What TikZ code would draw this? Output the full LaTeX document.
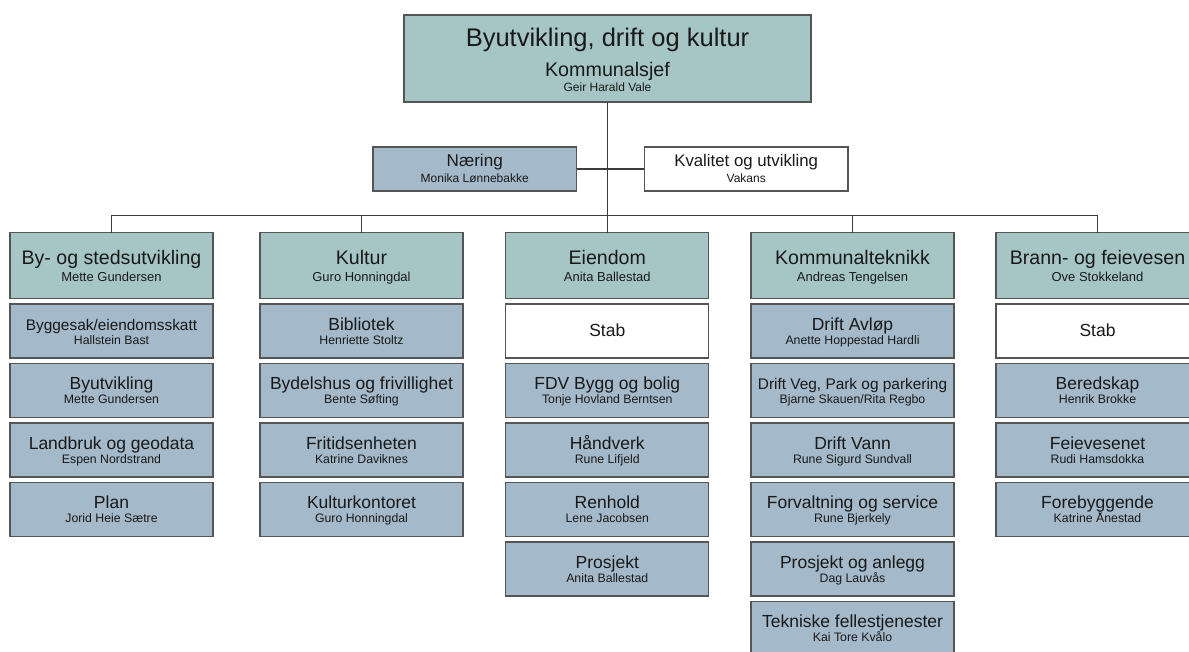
\documentclass[tikz,border=0pt]{standalone}
\usepackage{fontspec}
\setmainfont{Liberation Sans}
\definecolor{hdrc}{RGB}{166,198,198}
\definecolor{subc}{RGB}{164,185,201}
\definecolor{bordc}{RGB}{85,85,85}
\definecolor{linec}{RGB}{60,60,60}
\definecolor{txtc}{RGB}{25,25,25}
\tikzset{
  basebox/.style={draw=bordc, line width=1.2pt, minimum width=203pt, inner sep=0pt, outer sep=0pt},
  hdr/.style={basebox, fill=hdrc, minimum height=66pt},
  subbox/.style={basebox, fill=subc, minimum height=54pt},
  whtbox/.style={basebox, fill=white, minimum height=54pt},
  txt/.style={anchor=base, inner sep=0pt, outer sep=0pt, text=txtc},
  conn/.style={draw=linec, line width=1.3pt}
}
\newcommand\hbx[5]{%
  \node[hdr] (#1) at (#2,#3) {};
  \node[txt, font=\fontsize{19.6}{20}\selectfont] (#1-t) at ([yshift=1.5pt]#1.center) {#4};
  \node[txt, font=\fontsize{13}{14}\selectfont] (#1-n) at ([yshift=-15.8pt]#1.center) {#5};
}
\newcommand\sbx[6]{%
  \node[subbox] (#1) at (#2,#3) {};
  \node[txt, font=\fontsize{#6}{#6}\selectfont] (#1-t) at ([yshift=1pt]#1.center) {#4};
  \node[txt, font=\fontsize{12.3}{13}\selectfont] (#1-n) at ([yshift=-13.3pt]#1.center) {#5};
}
\newcommand\stabbx[3]{%
  \node[whtbox] (#1) at (#2,#3) {};
  \node[txt, font=\fontsize{17.5}{18}\selectfont] (#1-t) at ([yshift=-5.7pt]#1.center) {Stab};
}
\begin{document}
\begin{tikzpicture}[x=1pt,y=-1pt]
\useasboundingbox (0,0) rectangle (1189,651);
\clip (0,0) rectangle (1189,651);

% top box
\node[basebox, fill=hdrc, minimum width=407pt, minimum height=87pt] (top) at (607.5,58.5) {};
\node[txt, font=\fontsize{25.5}{26}\selectfont] (top-t) at ([yshift=11.8pt]top.center) {Byutvikling, drift og kultur};
\node[txt, font=\fontsize{19.7}{20}\selectfont] (top-k) at ([yshift=-18.2pt]top.center) {Kommunalsjef};
\node[txt, font=\fontsize{12}{13}\selectfont] (top-n) at ([yshift=-33.2pt]top.center) {Geir Harald Vale};

% staff boxes
\node[basebox, fill=subc, minimum width=203.5pt, minimum height=44pt] (naering) at (474.75,169) {};
\node[txt, font=\fontsize{17.1}{18}\selectfont] (naering-t) at ([yshift=2.3pt]naering.center) {Næring};
\node[txt, font=\fontsize{12}{13}\selectfont] (naering-n) at ([yshift=-13.7pt]naering.center) {Monika Lønnebakke};
\node[basebox, fill=white, minimum width=203.5pt, minimum height=44pt] (kval) at (746.2,169) {};
\node[txt, font=\fontsize{16.8}{18}\selectfont] (kval-t) at ([yshift=2.3pt]kval.center) {Kvalitet og utvikling};
\node[txt, font=\fontsize{12}{13}\selectfont] (kval-n) at ([yshift=-13.7pt]kval.center) {Vakans};

% headers
\hbx{h1}{111.5}{265.5}{By- og stedsutvikling}{Mette Gundersen}
\hbx{h2}{361.5}{265.5}{Kultur}{Guro Honningdal}
\hbx{h3}{607.3}{265.5}{Eiendom}{Anita Ballestad}
\hbx{h4}{852.5}{265.5}{Kommunalteknikk}{Andreas Tengelsen}
\hbx{h5}{1097.5}{265.5}{Brann- og feievesen}{Ove Stokkeland}

% column 1
\sbx{a1}{111.5}{331}{Byggesak/eiendomsskatt}{Hallstein Bast}{15.4}
\sbx{a2}{111.5}{390.5}{Byutvikling}{Mette Gundersen}{17.5}
\sbx{a3}{111.5}{450}{Landbruk og geodata}{Espen Nordstrand}{17.5}
\sbx{a4}{111.5}{509.5}{Plan}{Jorid Heie Sætre}{17.5}

% column 2
\sbx{b1}{361.5}{331}{Bibliotek}{Henriette Stoltz}{17.5}
\sbx{b2}{361.5}{390.5}{Bydelshus og frivillighet}{Bente Søfting}{17.5}
\sbx{b3}{361.5}{450}{Fritidsenheten}{Katrine Daviknes}{17.5}
\sbx{b4}{361.5}{509.5}{Kulturkontoret}{Guro Honningdal}{17.5}

% column 3
\stabbx{c1}{607.3}{331}
\sbx{c2}{607.3}{390.5}{FDV Bygg og bolig}{Tonje Hovland Berntsen}{17.5}
\sbx{c3}{607.3}{450}{Håndverk}{Rune Lifjeld}{17.5}
\sbx{c4}{607.3}{509.5}{Renhold}{Lene Jacobsen}{17.5}
\sbx{c5}{607.3}{569}{Prosjekt}{Anita Ballestad}{17.5}

% column 4
\sbx{d1}{852.5}{331}{Drift Avløp}{Anette Hoppestad Hardli}{17.5}
\sbx{d2}{852.5}{390.5}{Drift Veg, Park og parkering}{Bjarne Skauen/Rita Regbo}{15.4}
\sbx{d3}{852.5}{450}{Drift Vann}{Rune Sigurd Sundvall}{17.5}
\sbx{d4}{852.5}{509.5}{Forvaltning og service}{Rune Bjerkely}{17.5}
\sbx{d5}{852.5}{569}{Prosjekt og anlegg}{Dag Lauvås}{17.5}
\sbx{d6}{852.5}{628.5}{Tekniske fellestjenester}{Kai Tore Kvålo}{17.5}

% column 5
\stabbx{e1}{1097.5}{331}
\sbx{e2}{1097.5}{390.5}{Beredskap}{Henrik Brokke}{17.5}
\sbx{e3}{1097.5}{450}{Feievesenet}{Rudi Hamsdokka}{17.5}
\sbx{e4}{1097.5}{509.5}{Forebyggende}{Katrine Ånestad}{17.5}

% connectors
\coordinate (bus) at (607.3,215.5);
\draw[conn] (top.south -| h3.north) -- (h3.north);
\draw[conn] (naering.east) -- (kval.west);
\draw[conn] (h1.north) |- (bus) -| (h5.north);
\draw[conn] (h2.north) -- (h2.north |- bus);
\draw[conn] (h4.north) -- (h4.north |- bus);
\end{tikzpicture}
\end{document}
